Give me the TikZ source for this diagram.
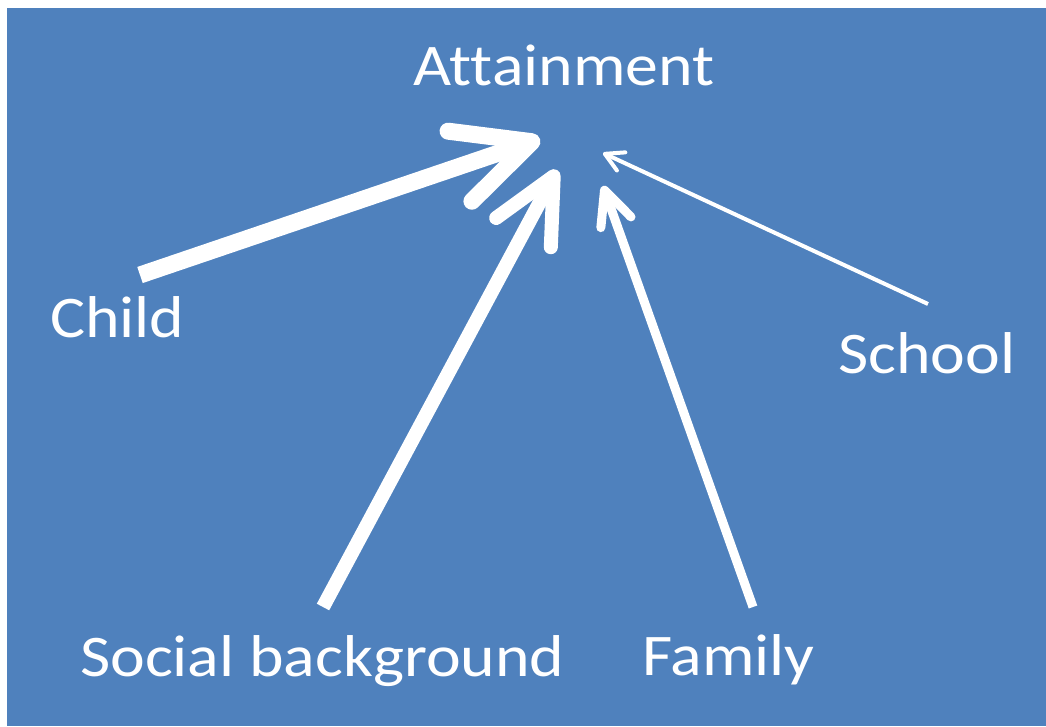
\documentclass[tikz,border=0pt]{standalone}
\usepackage{fontspec}
\setmainfont{Carlito}[FakeStretch=1.115,Ligatures={TeX,NoCommon}]
\usetikzlibrary{arrows.meta}
\definecolor{bgblue}{HTML}{4F81BD}
\begin{document}
\begin{tikzpicture}[x=1pt,y=-1pt,
  lbl/.style={text=white,inner sep=0pt,anchor=base west,font=\fontsize{59}{64}\selectfont},
  conn/.style={white,line cap=butt}]
\useasboundingbox (0,0) rectangle (1046,726);
\fill[white] (0,0) rectangle (1046,726);
\fill[bgblue] (7,8) rectangle (1046,726);
\node[lbl] (att) at (413,85) {Attainment};
\node[lbl] (child) at (50,337) {Child};
\node[lbl] (school) at (838,373) {School};
\node[lbl] (social) at (80,676) {Social background};
\node[lbl] (family) at (642,675) {Family};
\coordinate (childT) at (140,275);
\coordinate (childH) at (540,139);
\coordinate (socT) at (323,607);
\coordinate (socH) at (557,170);
\coordinate (famT) at (753,607);
\coordinate (famH) at (603,186);
\coordinate (schT) at (928,304);
\coordinate (schH) at (603,153);
\draw[conn,line width=17pt,-{Straight Barb[length=76pt,width=74pt,round]}] (childT) -- (childH);
\draw[conn,line width=14pt,-{Straight Barb[length=64pt,width=62pt,round]}] (socT) -- (socH);
\draw[conn,line width=9pt,-{Straight Barb[length=34pt,width=32pt,round]}] (famT) -- (famH);
\draw[conn,line width=4pt,-{Straight Barb[length=18pt,width=20pt,round]}] (schT) -- (schH);
\end{tikzpicture}
\end{document}
